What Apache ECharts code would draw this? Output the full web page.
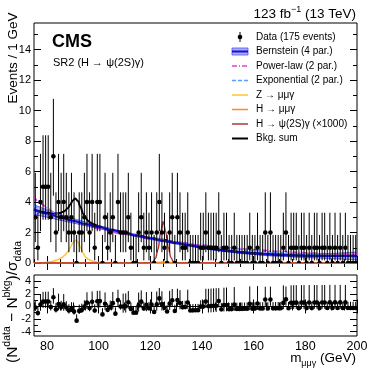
<!DOCTYPE html>
<html>
<head>
<meta charset="utf-8">
<script src="https://cdn.jsdelivr.net/npm/echarts@6/dist/echarts.min.js"></script>
<style>
  html, body { margin: 0; padding: 0; background: #fff; }
  #chart { width: 374px; height: 374px; }
</style>
</head>
<body>
<div id="chart"></div>
<script>
const FONT = '"Liberation Sans", Arial, Helvetica, sans-serif'

// 1 GeV bins starting at 75 GeV
const binStart = 75
const counts = [
  3, 1, 4, 5, 5, 5, 3, 7, 2, 4, 3, 4, 3, 2, 3, 2,
  0, 2, 2, 3, 4, 2, 4, 1, 4, 4, 0, 3, 1, 2, 3, 0,
  4, 2, 2, 2, 3, 1, 0, 0, 2, 3, 1, 2, 1, 2, 0, 2,
  4, 2, 1, 0, 2, 3, 0, 3, 2, 1, 1, 2, 0, 0, 0, 0,
  1, 1, 2, 1, 1, 1, 1, 2, 0, 1, 1, 0, 0, 1, 0, 0,
  0, 0, 0, 1, 0, 0, 1, 0, 0, 2, 0, 2, 0, 0, 0, 0,
  1, 2, 0, 1, 1, 1, 0, 1, 1, 0, 1, 0, 1, 1, 0, 1,
  1, 0, 1, 0, 1, 0, 1, 0, 1, 0, 0, 0, 0
]
// Poisson (Garwood) 68% limits for n = 0..8
const poissonLo = [0, 0.173, 0.708, 1.367, 2.086, 2.840, 3.620, 4.419, 5.232]
const poissonHi = [1.841, 3.300, 4.638, 5.918, 7.163, 8.382, 9.584, 10.77, 11.95]

// curves, [mass, events / GeV]
const bernstein = [[75, 3.5], [80, 3.25], [85, 3.0], [90, 2.78], [95, 2.56], [100, 2.36], [105, 2.16], [110, 1.97], [115, 1.79], [120, 1.62], [125, 1.46], [130, 1.31], [135, 1.17], [140, 1.03], [145, 0.9], [150, 0.79], [155, 0.7], [160, 0.63], [165, 0.57], [170, 0.53], [175, 0.5], [180, 0.48], [185, 0.47], [190, 0.46], [195, 0.46], [200, 0.46]]
const bernHigh = [[75, 3.82], [80, 3.49], [85, 3.19], [90, 2.93], [95, 2.68], [100, 2.46], [105, 2.25], [110, 2.05], [115, 1.86], [120, 1.69], [125, 1.53], [130, 1.38], [135, 1.24], [140, 1.1], [145, 0.97], [150, 0.86], [155, 0.77], [160, 0.71], [165, 0.66], [170, 0.62], [175, 0.6], [180, 0.6], [185, 0.61], [190, 0.63], [195, 0.67], [200, 0.71]]
const bernLow = [[75, 3.18], [80, 3.01], [85, 2.81], [90, 2.63], [95, 2.44], [100, 2.26], [105, 2.07], [110, 1.89], [115, 1.72], [120, 1.55], [125, 1.39], [130, 1.24], [135, 1.1], [140, 0.96], [145, 0.83], [150, 0.72], [155, 0.63], [160, 0.55], [165, 0.48], [170, 0.44], [175, 0.4], [180, 0.36], [185, 0.33], [190, 0.29], [195, 0.25], [200, 0.21]]
const powerLaw = [[75, 4.35], [78, 3.85], [80, 3.62], [83, 3.3], [86, 3.05], [90, 2.76], [95, 2.48], [100, 2.25], [110, 1.88], [120, 1.59], [130, 1.36], [140, 1.17], [150, 1.01], [160, 0.88], [170, 0.77], [180, 0.68], [190, 0.6], [200, 0.54]]
const exponential = [[75, 3.75], [80, 3.4], [90, 2.85], [100, 2.38], [110, 1.99], [120, 1.66], [130, 1.39], [140, 1.16], [150, 0.97], [160, 0.81], [170, 0.68], [180, 0.57], [190, 0.47], [200, 0.39]]
const zMumug = [[75, 0.01], [78, 0.02], [80, 0.05], [82, 0.1], [84, 0.2], [85, 0.28], [86, 0.38], [87, 0.52], [88, 0.72], [89, 1.0], [90, 1.32], [91, 1.5], [92, 1.38], [93, 1.02], [94, 0.64], [95, 0.38], [96, 0.24], [97, 0.16], [98, 0.1], [100, 0.04], [103, 0.01], [110, 0], [200, 0]]
const hMumug = [[75, 0.01], [120, 0.02], [123, 0.04], [125, 0.06], [127, 0.04], [130, 0.02], [200, 0.01]]
const hPsi2S = [[75, 0], [119, 0], [121, 0.05], [122, 0.3], [123, 0.9], [124, 2.0], [125, 2.7], [126, 2.05], [127, 1.0], [128, 0.35], [129, 0.08], [130, 0.01], [132, 0], [200, 0]]
const bkgSum = [[75, 3.51], [78, 3.37], [80, 3.3], [82, 3.25], [84, 3.25], [85, 3.28], [86, 3.34], [87, 3.43], [88, 3.59], [89, 3.82], [90, 4.1], [91, 4.24], [92, 4.07], [93, 3.67], [94, 3.24], [95, 2.94], [96, 2.76], [97, 2.64], [98, 2.54], [100, 2.4], [105, 2.17], [110, 1.98], [115, 1.8], [120, 1.64], [125, 1.52], [130, 1.33], [135, 1.18], [140, 1.04], [145, 0.91], [150, 0.8], [155, 0.71], [160, 0.64], [165, 0.58], [170, 0.54], [175, 0.51], [180, 0.49], [185, 0.48], [190, 0.47], [195, 0.47], [200, 0.47]]

// ticks
const xMajor = [80, 100, 120, 140, 160, 180, 200]
const xMinor = [75, 80, 85, 90, 95, 100, 105, 110, 115, 120, 125, 130, 135, 140, 145, 150, 155, 160, 165, 170, 175, 180, 185, 190, 195, 200]
const yMajorTop = [0, 2, 4, 6, 8, 10, 12, 14]
const yMinorTop = [0, 1, 2, 3, 4, 5, 6, 7, 8, 9, 10, 11, 12, 13, 14, 15]
const yMajorPull = [-4, -2, 0, 2, 4]
const yMinorPull = [-4, -3, -2, -1, 0, 1, 2, 3, 4]

const legendLabels = ['Data (175 events)', 'Bernstein (4 par.)', 'Power-law (2 par.)', 'Exponential (2 par.)', 'Z \u2192 \u03bc\u03bc\u03b3', 'H \u2192 \u03bc\u03bc\u03b3', 'H \u2192 \u03c8(2S)\u03b3 (\u00d71000)', 'Bkg. sum']

function interp (pairs, m) {
  for (let i = 1; i < pairs.length; i++) {
    if (m <= pairs[i][0]) {
      const a = pairs[i - 1], b = pairs[i]
      return a[1] + (b[1] - a[1]) * (m - a[0]) / (b[0] - a[0])
    }
  }
  return pairs[pairs.length - 1][1]
}

const dataPoints = counts.map((n, i) => [binStart + 0.5 + i, n, poissonLo[n], poissonHi[n]])
const pullPoints = counts.map((n, i) => {
  const m = binStart + 0.5 + i
  const b = interp(bkgSum, m)
  const s = n >= b ? n - poissonLo[n] : poissonHi[n] - n
  const p = (n - b) / s
  return [m, p, p - (n - poissonLo[n]) / s, p + (poissonHi[n] - n) / s]
})
const bandData = bernHigh.map((d, i) => [d[0], d[1], bernLow[i][1]])

function renderPoint (params, api) {
  const x = api.value(0)
  const c = api.coord([x, api.value(1)])
  const lo = api.coord([x, api.value(2)])
  const hi = api.coord([x, api.value(3)])
  return {
    type: 'group',
    children: [
      { type: 'line', shape: { x1: c[0], y1: lo[1], x2: c[0], y2: hi[1] }, style: { stroke: '#000', lineWidth: 1 } },
      { type: 'circle', shape: { cx: c[0], cy: c[1], r: 2.3 }, style: { fill: '#000' } }
    ]
  }
}

// whole uncertainty band is drawn once, from the first item
function renderBand (params, api) {
  if (params.dataIndex !== 0) return null
  const upper = bandData.map(d => api.coord([d[0], d[1]]))
  const lower = bandData.map(d => api.coord([d[0], d[2]]))
  return {
    type: 'group',
    children: [
      { type: 'polygon', shape: { points: upper.concat(lower.slice().reverse()) }, style: { fill: 'rgba(90,90,245,0.45)' } },
      { type: 'polyline', shape: { points: upper, smooth: 0.3 }, style: { stroke: '#4a4af0', lineWidth: 0.8, fill: null } },
      { type: 'polyline', shape: { points: lower, smooth: 0.3 }, style: { stroke: '#4a4af0', lineWidth: 0.8, fill: null } }
    ]
  }
}

function xAxes (grid, showLabels) {
  const base = { type: 'value', gridIndex: grid, min: 75, max: 200, splitLine: { show: false }, axisLine: { show: false } }
  const tick = (vals, len) => ({ inside: true, length: len, customValues: vals, lineStyle: { color: '#000', width: 1 } })
  return [
    { ...base, position: 'bottom', axisTick: tick(xMajor, 7), axisLabel: { show: showLabels, customValues: xMajor, color: '#000', fontFamily: FONT, fontSize: 12.5, margin: 4 } },
    { ...base, position: 'bottom', axisTick: tick(xMinor, 4), axisLabel: { show: false } },
    { ...base, position: 'top', axisTick: tick(xMajor, 7), axisLabel: { show: false } },
    { ...base, position: 'top', axisTick: tick(xMinor, 4), axisLabel: { show: false } }
  ]
}

function yAxes (grid, min, max, major, minor) {
  const base = { type: 'value', gridIndex: grid, min: min, max: max, splitLine: { show: false }, axisLine: { show: false } }
  const tick = (vals, len) => ({ inside: true, length: len, customValues: vals, lineStyle: { color: '#000', width: 1 } })
  return [
    { ...base, position: 'left', axisTick: tick(major, 7), axisLabel: { customValues: major, color: '#000', fontFamily: FONT, fontSize: 11, margin: 3 } },
    { ...base, position: 'left', axisTick: tick(minor, 4), axisLabel: { show: false } },
    { ...base, position: 'right', axisTick: tick(major, 7), axisLabel: { show: false } },
    { ...base, position: 'right', axisTick: tick(minor, 4), axisLabel: { show: false } }
  ]
}

function curve (name, data, color, width, type, z) {
  return {
    name: name, type: 'line', xAxisIndex: 0, yAxisIndex: 0, data: data,
    showSymbol: false, smooth: 0.4, smoothMonotone: 'x', silent: true, z: z,
    lineStyle: { color: color, width: width, type: type || 'solid' }
  }
}

function txt (x, y, text, style, extra) {
  return Object.assign({
    type: 'text', x: x, y: y, silent: true,
    style: Object.assign({ text: text, fontFamily: FONT, fontSize: 10, fill: '#000', align: 'left', verticalAlign: 'middle' }, style)
  }, extra || {})
}

// legend
const legX1 = 232, legX2 = 248, legText = 256, legY = 37, legDy = 14.5
const ly = i => legY + i * legDy
const legend = legendLabels.map((t, i) => txt(legText, ly(i), t))
legend.push(
  { type: 'line', shape: { x1: 240, y1: ly(0) - 5, x2: 240, y2: ly(0) + 5 }, style: { stroke: '#000', lineWidth: 1 } },
  { type: 'circle', shape: { cx: 240, cy: ly(0), r: 2.3 }, style: { fill: '#000' } },
  { type: 'rect', shape: { x: legX1, y: ly(1) - 3.5, width: 16, height: 7 }, style: { fill: 'rgba(70,70,240,0.45)', stroke: '#5050f0', lineWidth: 0.8 } },
  { type: 'line', shape: { x1: legX1, y1: ly(1), x2: legX2, y2: ly(1) }, style: { stroke: '#1010e0', lineWidth: 2 } },
  { type: 'line', shape: { x1: legX1, y1: ly(2), x2: legX2, y2: ly(2) }, style: { stroke: '#e040e0', lineWidth: 1.5, lineDash: [5, 2, 1, 2] } },
  { type: 'line', shape: { x1: legX1, y1: ly(3), x2: legX2, y2: ly(3) }, style: { stroke: '#5b9cff', lineWidth: 1.5, lineDash: [4, 2] } },
  { type: 'line', shape: { x1: legX1, y1: ly(4), x2: legX2, y2: ly(4) }, style: { stroke: '#ffc23d', lineWidth: 1.5 } },
  { type: 'line', shape: { x1: legX1, y1: ly(5), x2: legX2, y2: ly(5) }, style: { stroke: '#ff8a1e', lineWidth: 1.5 } },
  { type: 'line', shape: { x1: legX1, y1: ly(6), x2: legX2, y2: ly(6) }, style: { stroke: '#b03838', lineWidth: 1.5 } },
  { type: 'line', shape: { x1: legX1, y1: ly(7), x2: legX2, y2: ly(7) }, style: { stroke: '#000', lineWidth: 2 } }
)

const chart = echarts.init(document.getElementById('chart'), null, { renderer: 'canvas' })
chart.setOption({
  animation: false,
  backgroundColor: '#fff',
  grid: [
    { left: 34, top: 23, width: 323, height: 240, show: true, borderColor: '#000', borderWidth: 1, backgroundColor: 'transparent' },
    { left: 34, top: 275, width: 323, height: 61, show: true, borderColor: '#000', borderWidth: 1, backgroundColor: 'transparent' }
  ],
  xAxis: [...xAxes(0, false), ...xAxes(1, true)],
  yAxis: [...yAxes(0, 0, 15.75, yMajorTop, yMinorTop), ...yAxes(1, -4.7, 5, yMajorPull, yMinorPull)],
  series: [
    { type: 'custom', name: 'Band', xAxisIndex: 0, yAxisIndex: 0, data: bandData, renderItem: renderBand, clip: true, silent: true, z: 2 },
    curve('Z', zMumug, '#ffc23d', 1.5, 'solid', 3),
    curve('Hmumug', hMumug, '#ff8a1e', 1.5, 'solid', 3),
    curve('Hpsi', hPsi2S, '#b03838', 1.5, 'solid', 3),
    curve('Bkg sum', bkgSum, '#000', 2, 'solid', 4),
    curve('Exponential', exponential, '#5b9cff', 1.5, [4, 2], 5),
    curve('Power-law', powerLaw, '#e040e0', 1.5, [5, 2, 1, 2], 5),
    curve('Bernstein', bernstein, '#1010e0', 2, 'solid', 6),
    { type: 'custom', name: 'Data', xAxisIndex: 0, yAxisIndex: 0, data: dataPoints, renderItem: renderPoint, clip: true, silent: true, z: 10 },
    {
      type: 'custom', name: 'Pull', xAxisIndex: 4, yAxisIndex: 4, data: pullPoints, renderItem: renderPoint, clip: true, silent: true, z: 10,
      markLine: { silent: true, symbol: 'none', label: { show: false }, lineStyle: { color: '#000', width: 1, type: 'solid' }, data: [{ yAxis: 0 }] }
    }
  ],
  graphic: [
    txt(52, 42, 'CMS', { fontSize: 18, fontWeight: 'bold' }),
    txt(53, 63, 'SR2 (H \u2192 \u03c8(2S)\u03b3)', { fontSize: 11 }),
    txt(356, 14, '123 fb{sup|\u22121} (13 TeV)', { fontSize: 13.5, align: 'right', lineHeight: 18, rich: { sup: { fontSize: 9, verticalAlign: 'top', lineHeight: 9, fontFamily: FONT } } }),
    txt(13, 58, 'Events / 1 GeV', { fontSize: 13.5, align: 'center' }, { rotation: Math.PI / 2 }),
    txt(13, 302, '(N{sup|data} \u2212 N{sup|bkg})/\u03c3{sub|data}', {
      fontSize: 15.5, align: 'center', lineHeight: 22,
      rich: {
        sup: { fontSize: 10.5, verticalAlign: 'top', lineHeight: 10, fontFamily: FONT },
        sub: { fontSize: 10.5, verticalAlign: 'bottom', lineHeight: 10, fontFamily: FONT }
      }
    }, { rotation: Math.PI / 2 }),
    txt(356, 358, 'm{sub|\u03bc\u03bc\u03b3} (GeV)', { fontSize: 13.5, align: 'right', lineHeight: 20, rich: { sub: { fontSize: 9, verticalAlign: 'bottom', lineHeight: 9, fontFamily: FONT } } }),
    ...legend
  ]
})
</script>
</body>
</html>
